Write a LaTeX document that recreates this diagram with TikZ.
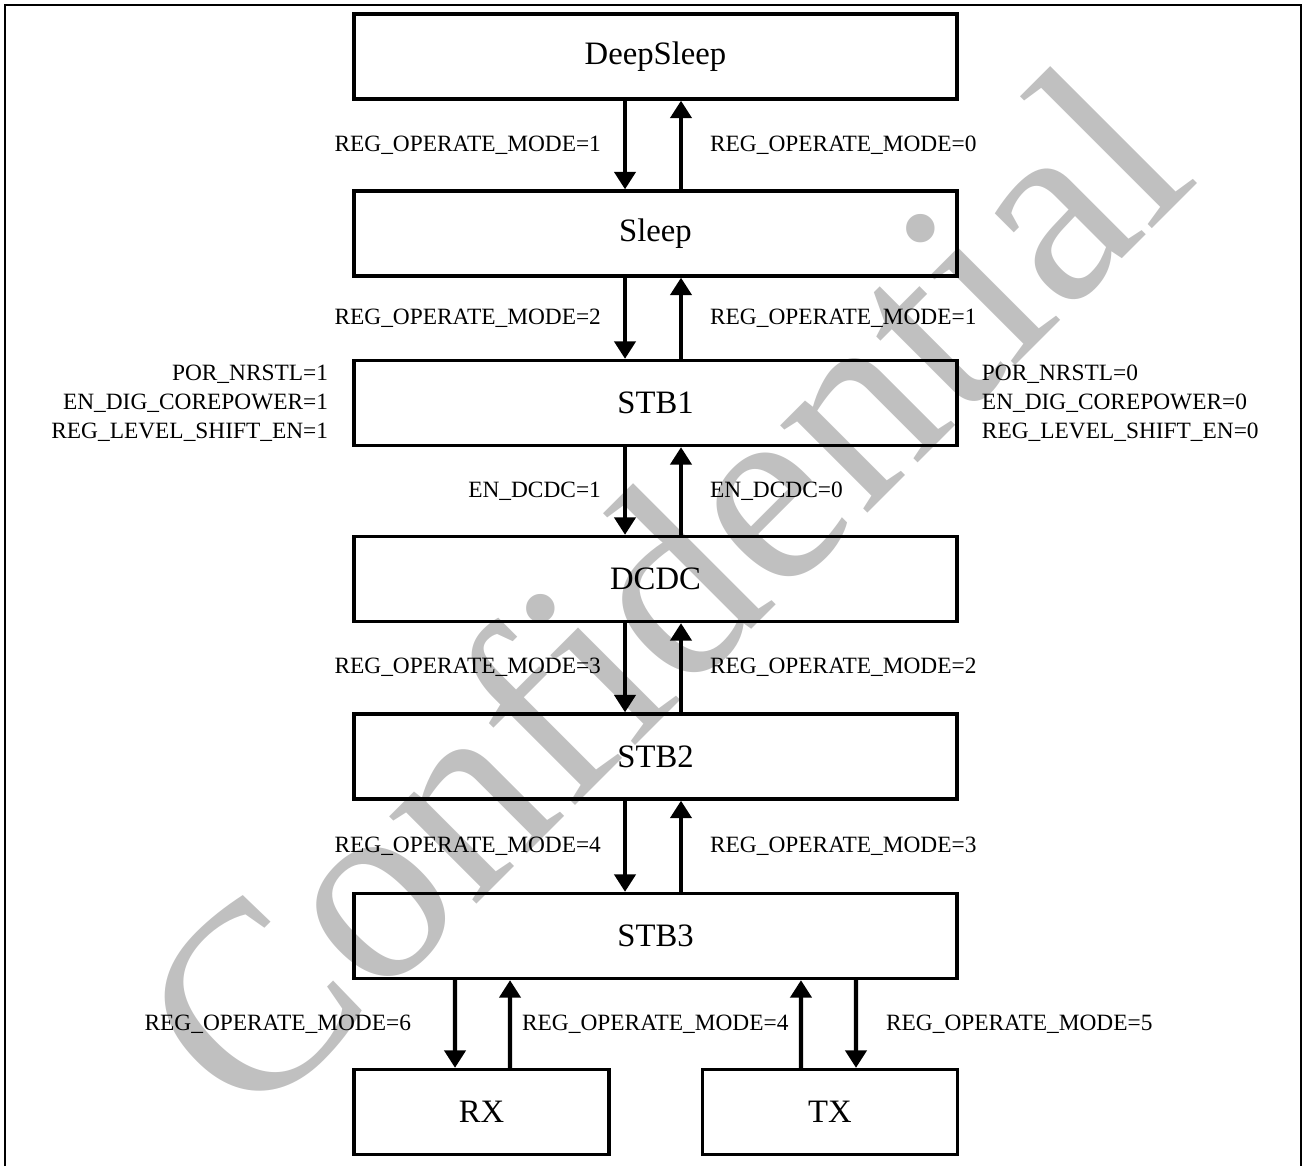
\documentclass[tikz,border=0pt]{standalone}
\usepackage{fontspec}
\setmainfont{Liberation Serif}
\usetikzlibrary{arrows.meta,positioning}
\definecolor{wmgray}{HTML}{C0C0C0}

\begin{document}
\begin{tikzpicture}[x=0.02cm, y=-0.02cm,
  state/.style={draw, line width=1.9pt, minimum width=12.06cm, minimum height=1.7cm,
    inner sep=0pt, font=\fontsize{18.6}{20}\selectfont},
  substate/.style={state, minimum width=5.1cm},
  trans/.style={-{Triangle[length=10pt,width=12pt]}, line width=2.4pt},
  lbl/.style={inner sep=0pt, font=\fontsize{13.3}{16.4}\selectfont},
  watermark/.style={inner sep=0pt, text=wmgray, rotate=45,
    font=\fontsize{153}{153}\selectfont}]

 \useasboundingbox (0,0) rectangle (1307,1166);

 % watermark behind everything
 \node[watermark] (mark) at (660,589) {Confidential};

 % outer frame, open at the bottom
 \draw[line width=1.3pt] (5,1166) -- (5,5) -- (1301,5) -- (1301,1166);

 % states
 \node[state] (deep)  at (655.5,56.5) {DeepSleep};
 \node[state] (sleep) at (655.5,233.5) {Sleep};
 \node[state] (stb1)  at (655.5,403) {STB1};
 \node[state] (dcdc)  at (655.5,579) {DCDC};
 \node[state] (stb2)  at (655.5,756.5) {STB2};
 \node[state] (stb3)  at (655.5,936) {STB3};
 \node[substate] (rx) at (481.5,1112) {RX};
 \node[substate] (tx) at (830,1112) {TX};

 % register settings around STB1
 \node[lbl, align=right, left=0.48cm of stb1] (stb1_in)
     {POR\_NRSTL=1\\EN\_DIG\_COREPOWER=1\\REG\_LEVEL\_SHIFT\_EN=1};
 \node[lbl, align=left, right=0.46cm of stb1] (stb1_out)
     {POR\_NRSTL=0\\EN\_DIG\_COREPOWER=0\\REG\_LEVEL\_SHIFT\_EN=0};

 % transitions
 \draw [trans] ([xshift=-0.61cm]deep.south) -- node[lbl, left=0.44cm] {REG\_OPERATE\_MODE=1} ([xshift=-0.61cm]sleep.north);
 \draw [trans] ([xshift=0.51cm]sleep.north) -- node[lbl, right=0.54cm] {REG\_OPERATE\_MODE=0} ([xshift=0.51cm]deep.south);

 \draw [trans] ([xshift=-0.61cm]sleep.south) -- node[lbl, left=0.44cm] {REG\_OPERATE\_MODE=2} ([xshift=-0.61cm]stb1.north);
 \draw [trans] ([xshift=0.51cm]stb1.north) -- node[lbl, right=0.54cm] {REG\_OPERATE\_MODE=1} ([xshift=0.51cm]sleep.south);

 \draw [trans] ([xshift=-0.61cm]stb1.south) -- node[lbl, left=0.44cm] {EN\_DCDC=1} ([xshift=-0.61cm]dcdc.north);
 \draw [trans] ([xshift=0.51cm]dcdc.north) -- node[lbl, right=0.54cm] {EN\_DCDC=0} ([xshift=0.51cm]stb1.south);

 \draw [trans] ([xshift=-0.61cm]dcdc.south) -- node[lbl, left=0.44cm] {REG\_OPERATE\_MODE=3} ([xshift=-0.61cm]stb2.north);
 \draw [trans] ([xshift=0.51cm]stb2.north) -- node[lbl, right=0.54cm] {REG\_OPERATE\_MODE=2} ([xshift=0.51cm]dcdc.south);

 \draw [trans] ([xshift=-0.61cm]stb2.south) -- node[lbl, left=0.44cm] {REG\_OPERATE\_MODE=4} ([xshift=-0.61cm]stb3.north);
 \draw [trans] ([xshift=0.51cm]stb3.north) -- node[lbl, right=0.54cm] {REG\_OPERATE\_MODE=3} ([xshift=0.51cm]stb2.south);

 \draw [trans] ([xshift=-4.01cm]stb3.south) -- node[lbl, left=0.84cm] {REG\_OPERATE\_MODE=6} ([xshift=-0.53cm]rx.north);
 \draw [trans] ([xshift=0.57cm]rx.north) -- node[lbl, right=0.2cm] {REG\_OPERATE\_MODE=4} ([xshift=-2.91cm]stb3.south);
 \draw [trans] ([xshift=-0.58cm]tx.north) -- ([xshift=2.91cm]stb3.south);
 \draw [trans] ([xshift=4.01cm]stb3.south) -- node[lbl, right=0.56cm] {REG\_OPERATE\_MODE=5} ([xshift=0.52cm]tx.north);

\end{tikzpicture}
\end{document}
